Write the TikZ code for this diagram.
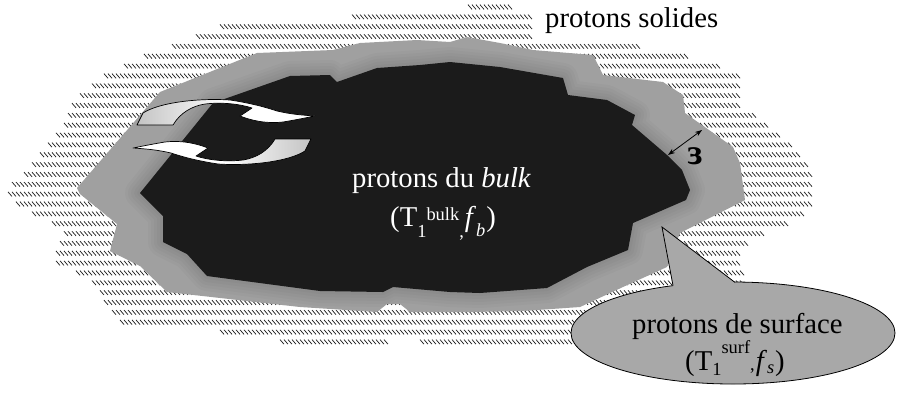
\documentclass[tikz,border=0pt]{standalone}
\usepackage{fontspec}
\setmainfont{Liberation Serif}
\usetikzlibrary{arrows.meta}
\definecolor{darkfill}{HTML}{1B1B1B}
\definecolor{midgray}{HTML}{A0A0A0}
\definecolor{bubblegray}{HTML}{A8A8A8}
\definecolor{arrgray}{HTML}{C4C4C4}
\newcommand{\lo}[2]{\raisebox{-#1bp}{\fontsize{18.5}{20}\selectfont #2}}
\newcommand{\hi}[2]{\raisebox{#1bp}{\fontsize{18.5}{20}\selectfont #2}}
\newcommand{\graypath}{(77,188) -- (160,92) -- (257,53) -- (333,50) -- (360,43) -- (417,40) -- (450,42) -- (467,37) -- (500,43) -- (533,50) -- (593,55) -- (603,75) -- (663,82) -- (683,95) -- (685,113) -- (733,147) -- (740,163) -- (745,200) -- (680,233) -- (667,267) -- (623,287) -- (580,307) -- (523,311) -- (473,312) -- (410,312) -- (400,304) -- (387,304) -- (377,312) -- (300,307) -- (167,292) -- (140,266) -- (110,251) -- (117,224) -- (80,194) -- cycle}
\newcommand{\darkpath}{(140,193) -- (213,103) -- (290,76) -- (330,75) -- (337,82) -- (377,68) -- (420,65) -- (450,62) -- (500,67) -- (563,78) -- (568,95) -- (607,100) -- (635,115) -- (632,125) -- (667,155) -- (682,170) -- (690,190) -- (686,200) -- (633,223) -- (628,250) -- (587,267) -- (547,288) -- (480,293) -- (450,292) -- (393,287) -- (383,292) -- (320,291) -- (207,276) -- (187,254) -- (163,242) -- (163,216) -- cycle}
\tikzset{
  hatchstroke/.style={draw=black!85,line width=0.75bp},
  txt/.style={inner sep=0pt,anchor=base west,font=\fontsize{28.8}{34}\selectfont},
  arrowshape/.style={draw=black,line width=0.7pt,line join=round},
  tailline/.style={draw=black,line width=0.8pt}
}
\begin{document}
\begin{tikzpicture}[x=1bp,y=-1bp]
\useasboundingbox (0,0) rectangle (902,394);
% hatched zone (protons solides): rows of short diagonal strokes
\foreach \k/\a/\b in {0/468/513,1/353/532,2/223/532,3/197/532,4/173/642,5/147/690,6/125/723,7/107/743,8/93/743,9/82/740,10/75/743,11/68/758,12/67/768,13/58/780,14/50/793,15/42/803,16/33/810,17/25/813,18/15/815,19/8/815,20/17/815,21/35/805,22/52/790,23/65/767,24/60/750,25/57/740,26/58/740,27/77/745,28/95/745,29/103/700,30/107/640,31/113/600,32/123/590,33/223/585,34/280/390,34/423/580}
{
  \pgfmathsetmacro\ytop{7+9.85*\k-2.3}
  \pgfmathtruncatemacro\xs{floor(\a/4)}
  \pgfmathtruncatemacro\xe{floor((\b-4)/4)}
  \draw[hatchstroke] \foreach \i in {\xs,...,\xe} { ({4*\i},\ytop) -- ++(4,4.6) };
}
% surface layer
\fill[midgray] \graypath;
\begin{scope}
  \clip \graypath;
  \foreach \w in {30,24,18,12,6}
    \draw[black,opacity=0.025,line width=\w bp,line join=round] \darkpath;
\end{scope}
% bulk
\fill[darkfill] \darkpath;
% exchange arrows
\path[arrowshape,left color=arrgray,right color=white,middle color=white]
  (137,125) -- (173,125)
  .. controls (180,113) and (192,106) .. (205,104)
  .. controls (222,102) and (240,104) .. (252,108)
  -- (240,116)
  .. controls (250,120) and (265,124) .. (283,122)
  .. controls (295,120) and (305,118) .. (315,116)
  .. controls (300,115) and (290,114) .. (277,111)
  .. controls (265,107) and (250,103) .. (230,100)
  .. controls (200,98) and (160,102) .. (143,113)
  -- cycle;
\path[arrowshape,left color=white,right color=arrgray,middle color=white]
  (311,139) -- (275,139)
  .. controls (268,151) and (256,158) .. (243,160)
  .. controls (226,162) and (208,160) .. (196,156)
  -- (208,148)
  .. controls (198,144) and (183,140) .. (165,142)
  .. controls (153,144) and (143,146) .. (133,148)
  .. controls (148,149) and (158,150) .. (171,153)
  .. controls (183,157) and (198,161) .. (218,164)
  .. controls (248,166) and (288,162) .. (305,151)
  -- cycle;
% epsilon
\coordinate (epsA) at (668,155);
\coordinate (epsB) at (702,130);
\draw[{Stealth[length=7bp,width=5bp]}-{Stealth[length=7bp,width=5bp]},line width=0.8pt] (epsA) -- (epsB);
\node[inner sep=0pt,font=\fontsize{36}{38}\selectfont\bfseries] (eps) at (695,156) {\reflectbox{ε}};
% bubble
\coordinate (tailtip) at (662,227);
\coordinate (tailL) at (673,285.6);
\coordinate (tailR) at (735,282.4);
\filldraw[fill=bubblegray,draw=black,line width=0.8pt] (733,333) ellipse [x radius=162,y radius=51];
\fill[bubblegray] (tailtip) -- (tailL) -- (674,289) -- (706,287) -- (736,286) -- (tailR) -- cycle;
\draw[tailline] (tailL) -- (tailtip) -- (tailR);
% texts
\node[txt] (solides) at (545,27) {protons solides};
\node[txt,text=white] (bulk) at (352,187) {protons du \textit{bulk}};
\node[txt,text=white] (bulkT) at (390,226) {(T\lo{11}{1}\hi{6}{bulk}\lo{11}{,}\kern1bp\textit{f}\lo{10}{\textit{b}}\kern1bp)};
\node[txt] (surf) at (632,333) {protons de surface};
\node[txt] (surfT) at (685,370) {(T\lo{5}{1}\hi{17}{surf}\lo{0}{,}\kern1bp\textit{f}\lo{3}{\textit{s}}\kern1bp)};
\end{tikzpicture}
\end{document}
